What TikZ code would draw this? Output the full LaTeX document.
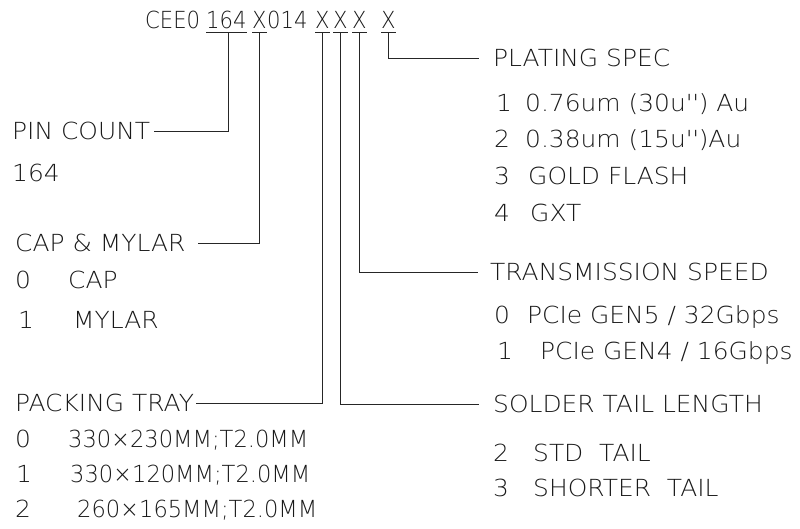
\documentclass[tikz,border=0pt]{standalone}
\usepackage{fontspec}
\setmainfont{DejaVu Sans}[UprightFont={* ExtraLight},FakeStretch=1.06]
\newfontfamily\pnfont{DejaVu Sans}[UprightFont={* ExtraLight},FakeStretch=0.9]
\newfontfamily\trayfont{DejaVu Sans}[UprightFont={* ExtraLight},FakeStretch=0.96]
\begin{document}
\begin{tikzpicture}[x=1pt,y=-1pt,line cap=butt,
  txt/.style={anchor=west,inner sep=0pt,text height=17pt,text depth=0pt,
    font=\fontsize{23.5}{27}\selectfont,text=black!90},
  pn/.style={txt,font=\fontsize{23.5}{27}\pnfont},
  tray/.style={txt,font=\fontsize{23.5}{27}\trayfont},
  leader/.style={black!85,line width=0.8pt}]
\useasboundingbox (0,0) rectangle (800,528);
\node[pn] (pn-pre) at (145,20) {CEE0};
\node[pn] (pn-pins) at (206,20) {164};
\node[pn] (pn-cap) at (252,20) {X};
\node[pn] (pn-mid) at (267,20) {014};
\node[pn] (pn-tray) at (315,20) {X};
\node[pn] (pn-tail) at (333,20) {X};
\node[pn] (pn-speed) at (352,20) {X};
\node[pn] (pn-plate) at (381,20) {X};
\node[txt] (pincount) at (12,131) {PIN COUNT};
\node[txt] (pinval) at (12,173) {164};
\node[txt] (capmylar) at (15,243) {CAP \& MYLAR};
\node[txt] (cap-0n) at (15,280) {0};
\node[txt] (cap-0) at (68,280) {CAP};
\node[txt] (cap-1n) at (18,320) {1};
\node[txt] (cap-1) at (73,320) {MYLAR};
\node[txt] (packing) at (15,403) {PACKING TRAY};
\node[txt] (tray-0n) at (15,439) {0};
\node[tray] (tray-0) at (68,439) {330×230MM;T2.0MM};
\node[txt] (tray-1n) at (16,474) {1};
\node[tray] (tray-1) at (70,474) {330×120MM;T2.0MM};
\node[txt] (tray-2n) at (15,509) {2};
\node[tray] (tray-2) at (77,509) {260×165MM;T2.0MM};
\node[txt] (plating) at (493,58) {PLATING SPEC};
\node[txt] (plate-1n) at (496,103) {1};
\node[txt] (plate-1) at (525,103) {0.76um (30u\textquotesingle\textquotesingle) Au};
\node[txt] (plate-2n) at (494,139) {2};
\node[txt] (plate-2) at (525,139) {0.38um (15u\textquotesingle\textquotesingle)Au};
\node[txt] (plate-3n) at (494,176) {3};
\node[txt] (plate-3) at (528,176) {GOLD FLASH};
\node[txt] (plate-4n) at (494,213) {4};
\node[txt] (plate-4) at (530,213) {GXT};
\node[txt] (speed) at (490,272) {TRANSMISSION SPEED};
\node[txt] (speed-0n) at (494,315) {0};
\node[txt] (speed-0) at (527,315) {PCIe GEN5 / 32Gbps};
\node[txt] (speed-1n) at (497,351) {1};
\node[txt] (speed-1) at (540,351) {PCIe GEN4 / 16Gbps};
\node[txt] (tail) at (493,404) {SOLDER TAIL LENGTH};
\node[txt] (tail-2n) at (493,453) {2};
\node[txt] (tail-2) at (533,453) {STD\ \ TAIL};
\node[txt] (tail-3n) at (493,488) {3};
\node[txt] (tail-3) at (533,488) {SHORTER\ \ TAIL};
\draw[leader] ([yshift=-4pt]pn-pins.south west) -- ([yshift=-4pt]pn-pins.south east);
\draw[leader] ([yshift=-4pt]pn-cap.south west) -- ([yshift=-4pt]pn-cap.south east);
\draw[leader] ([yshift=-4pt]pn-tray.south west) -- ([yshift=-4pt]pn-tray.south east);
\draw[leader] ([yshift=-4pt]pn-tail.south west) -- ([yshift=-4pt]pn-tail.south east);
\draw[leader] ([yshift=-4pt]pn-speed.south west) -- ([yshift=-4pt]pn-speed.south east);
\draw[leader] ([yshift=-4pt]pn-plate.south west) -- ([yshift=-4pt]pn-plate.south east);
\draw[leader] ([xshift=2pt,yshift=-4pt]pn-pins.south) |- ([xshift=4pt]pincount.east);
\draw[leader] ([yshift=-4pt]pn-cap.south) |- ([xshift=12pt]capmylar.east);
\draw[leader] ([yshift=-4pt]pn-tray.south) |- ([xshift=2pt]packing.east);
\draw[leader] ([yshift=-4pt]pn-tail.south) |- ([xshift=-14pt]tail.west);
\draw[leader] ([yshift=-4pt]pn-speed.south) |- ([xshift=-12pt]speed.west);
\draw[leader] ([yshift=-4pt]pn-plate.south) |- ([xshift=-14pt]plating.west);
\end{tikzpicture}
\end{document}
